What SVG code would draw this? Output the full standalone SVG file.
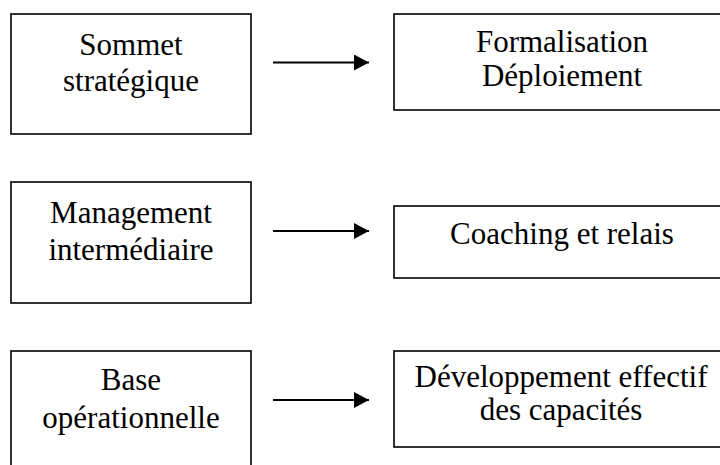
<svg xmlns="http://www.w3.org/2000/svg" width="720" height="465" viewBox="0 0 720 465">
<style>
.box{fill:#fff;stroke:#000;stroke-width:1.6}
.t{font-family:'Times New Roman','Liberation Serif','Nimbus Roman',serif;font-size:31px;fill:#000;text-anchor:middle}
.c{stroke:#000;stroke-width:2.2;fill:none}
</style>
<defs>
<marker id="ah" markerUnits="userSpaceOnUse" markerWidth="16" markerHeight="18" refX="15" refY="8" orient="auto">
<path d="M0,0 L15,8 L0,16 Z" fill="#000"/>
</marker>
</defs>
<rect width="720" height="465" fill="#fff"/>
<g id="sommet">
<rect class="box" x="11" y="14" width="240" height="120"/>
<text class="t" x="131" y="55">Sommet</text>
<text class="t" x="131" y="91">stratégique</text>
</g>
<g id="formalisation">
<rect class="box" x="394" y="14" width="340" height="96"/>
<text class="t" x="562" y="52">Formalisation</text>
<text class="t" x="562" y="86">Déploiement</text>
</g>
<g id="management">
<rect class="box" x="11" y="182" width="240" height="121"/>
<text class="t" x="131" y="223">Management</text>
<text class="t" x="131" y="260">intermédiaire</text>
</g>
<g id="coaching">
<rect class="box" x="394" y="206" width="340" height="72"/>
<text class="t" x="562" y="244">Coaching et relais</text>
</g>
<g id="base">
<rect class="box" x="11" y="351" width="240" height="130"/>
<text class="t" x="131" y="390">Base</text>
<text class="t" x="131" y="428">opérationnelle</text>
</g>
<g id="developpement">
<rect class="box" x="394" y="351" width="340" height="96"/>
<text class="t" x="561" y="387">Développement effectif</text>
<text class="t" x="561" y="420">des capacités</text>
</g>
<g id="connectors">
<line class="c" x1="273" y1="62.5" x2="369" y2="62.5" marker-end="url(#ah)"/>
<line class="c" x1="273" y1="231" x2="369" y2="231" marker-end="url(#ah)"/>
<line class="c" x1="273" y1="400" x2="369" y2="400" marker-end="url(#ah)"/>
</g>
</svg>
